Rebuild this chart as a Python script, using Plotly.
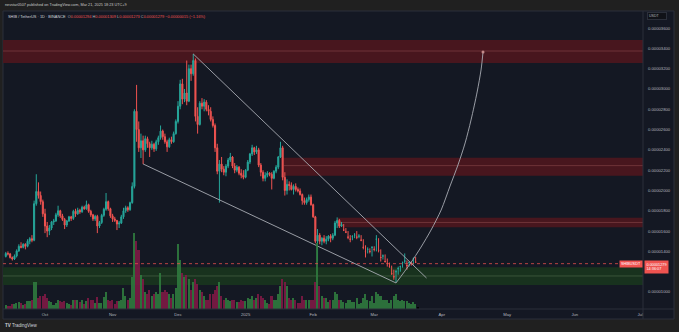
import pandas as pd
import plotly.graph_objects as go

# ---- SHIB / USDT daily candles (prices in units of 1e-8 USDT) ----
dates = pd.date_range("2024-09-13", "2025-03-21", freq="D")

opens = [1350, 1380, 1375, 1340, 1325, 1355, 1405, 1450, 1440, 1470, 1450, 1500, 1525, 1510, 1870, 1990, 1950, 1890,
         1770, 1650, 1600, 1630, 1690, 1700, 1760, 1800, 1750, 1715, 1660, 1700, 1740, 1725, 1795, 1770, 1805, 1790,
         1835, 1820, 1860, 1795, 1760, 1720, 1745, 1650, 1685, 1755, 1815, 1890, 1820,
         1750, 1720, 1705, 1670, 1680, 1740, 1800, 1830, 1810, 1880, 2040, 2780, 2600, 2420, 2490, 2400, 2510, 2460,
         2420, 2455, 2410, 2480, 2520, 2585, 2530, 2480, 2430, 2500, 2480, 2560,
         2680, 2830, 3050, 2900, 2960, 2880, 3200, 3150, 3280, 2730, 2650, 2860, 2830, 2870, 2800, 2780, 2700, 2640,
         2420, 2190, 2260, 2210, 2180, 2240, 2300, 2330, 2240, 2200, 2230, 2170, 2150,
         2130, 2200, 2280, 2360, 2420, 2380, 2400, 2250, 2180, 2120, 2150, 2170, 2160, 2120, 2190, 2230, 2330, 2420,
         2130, 2000, 2060, 2050, 2010, 2040, 2010, 1995, 1960, 1900, 1880, 1910, 1935,
         1860, 1740, 1500, 1560, 1500, 1530, 1500, 1520, 1550, 1530, 1560, 1680, 1705, 1650, 1610, 1590, 1540, 1520,
         1545, 1560, 1540, 1550, 1510, 1440, 1400, 1420, 1400,
         1440, 1420, 1520, 1410, 1340, 1355, 1300, 1280, 1250, 1180, 1150, 1200, 1230, 1250, 1290, 1305, 1260, 1290,
         1280, 1330, 1294]
highs = [1395, 1400, 1385, 1350, 1370, 1420, 1470, 1490, 1480, 1480, 1520, 1540, 1560, 1900, 2160, 2080, 1990, 1910,
         1820, 1690, 1660, 1700, 1720, 1780, 1850, 1810, 1770, 1730, 1710, 1750, 1750, 1810, 1820, 1830, 1820, 1850,
         1850, 1900, 1870, 1810, 1770, 1760, 1760, 1700, 1770, 1830, 1975, 1900, 1830,
         1770, 1740, 1710, 1700, 1760, 1830, 1850, 1845, 1890, 2080, 2800, 3040, 2680, 2560, 2540, 2540, 2530, 2480,
         2490, 2470, 2500, 2540, 2640, 2600, 2560, 2500, 2520, 2530, 2580, 2700,
         2880, 3090, 3100, 3000, 3280, 3240, 3240, 3345, 3300, 2820, 2880, 2910, 2900, 2890, 2840, 2820, 2730, 2660,
         2460, 2300, 2330, 2240, 2260, 2320, 2370, 2340, 2270, 2250, 2240, 2210, 2200,
         2210, 2300, 2370, 2450, 2430, 2440, 2420, 2270, 2200, 2180, 2190, 2180, 2180, 2200, 2250, 2340, 2480, 2440,
         2180, 2110, 2090, 2080, 2060, 2070, 2030, 2020, 1970, 1930, 1930, 1960, 1960,
         1870, 1750, 1620, 1580, 1540, 1560, 1550, 1560, 1570, 1580, 1700, 1735, 1720, 1690, 1670, 1630, 1600, 1560,
         1560, 1580, 1600, 1570, 1560, 1520, 1460, 1440, 1430, 1450,
         1450, 1560, 1530, 1420, 1370, 1370, 1330, 1290, 1260, 1220, 1220, 1250, 1260, 1300, 1380, 1310, 1300, 1300,
         1340, 1345, 1309]
lows = [1340, 1360, 1330, 1310, 1315, 1340, 1395, 1430, 1430, 1420, 1440, 1470, 1490, 1500, 1850, 1920, 1860, 1740,
        1580, 1540, 1560, 1610, 1660, 1690, 1740, 1730, 1700, 1620, 1640, 1690, 1700, 1710, 1740, 1760, 1770, 1780,
        1810, 1810, 1780, 1740, 1700, 1700, 1580, 1630, 1670, 1740, 1800, 1800, 1730,
        1690, 1690, 1610, 1630, 1670, 1720, 1780, 1790, 1800, 1870, 2020, 2480, 2380, 2320, 2260, 2380, 2420, 2330,
        2400, 2380, 2390, 2450, 2500, 2500, 2460, 2380, 2420, 2460, 2470, 2550,
        2660, 2800, 2850, 2870, 2840, 2870, 3080, 3130, 2680, 2560, 2640, 2800, 2780, 2780, 2740, 2680, 2620, 2380,
        2160, 1880, 2180, 2150, 2140, 2220, 2280, 2220, 2170, 2180, 2150, 2120, 2110,
        2120, 2190, 2260, 2340, 2350, 2360, 2230, 2140, 2090, 2090, 2130, 2140, 2010, 2110, 2170, 2210, 2320, 2100,
        1950, 1960, 2000, 2000, 1960, 1990, 1980, 1950, 1860, 1860, 1860, 1890, 1850,
        1730, 1480, 1300, 1470, 1460, 1480, 1470, 1500, 1490, 1510, 1550, 1630, 1630, 1640, 1600, 1580, 1520, 1490,
        1510, 1530, 1520, 1530, 1500, 1420, 1340, 1380, 1380, 1350,
        1400, 1400, 1390, 1300, 1320, 1290, 1250, 1240, 1170, 1120, 1095, 1170, 1200, 1240, 1280, 1220, 1250, 1260,
        1270, 1285, 1273]
closes = [1380, 1375, 1340, 1325, 1355, 1405, 1450, 1440, 1470, 1450, 1500, 1525, 1510, 1870, 1990, 1950, 1890, 1770,
          1650, 1600, 1630, 1690, 1700, 1760, 1800, 1750, 1715, 1660, 1700, 1740, 1725, 1795, 1770, 1805, 1790, 1835,
          1820, 1860, 1795, 1760, 1720, 1745, 1650, 1685, 1755, 1815, 1890, 1820, 1750,
          1720, 1705, 1670, 1680, 1740, 1800, 1830, 1810, 1880, 2040, 2780, 2600, 2420, 2490, 2400, 2510, 2460, 2420,
          2455, 2410, 2480, 2520, 2585, 2530, 2480, 2430, 2500, 2480, 2560, 2680,
          2830, 3050, 2900, 2960, 2880, 3200, 3150, 3280, 2730, 2650, 2860, 2830, 2870, 2800, 2780, 2700, 2640, 2420,
          2190, 2260, 2210, 2180, 2240, 2300, 2330, 2240, 2200, 2230, 2170, 2150, 2130,
          2200, 2280, 2360, 2420, 2380, 2400, 2250, 2180, 2120, 2150, 2170, 2160, 2120, 2190, 2230, 2330, 2420, 2130,
          2000, 2060, 2050, 2010, 2040, 2010, 1995, 1960, 1900, 1880, 1910, 1935, 1860,
          1740, 1500, 1560, 1500, 1530, 1500, 1520, 1550, 1530, 1560, 1680, 1705, 1650, 1665, 1610, 1590, 1540, 1520,
          1545, 1560, 1540, 1550, 1510, 1440, 1400, 1420, 1400, 1440,
          1420, 1520, 1410, 1340, 1355, 1300, 1280, 1250, 1180, 1150, 1200, 1230, 1250, 1290, 1305, 1260, 1290, 1280,
          1330, 1294, 1279]
# daily volume, trillion SHIB
volumes = [2, 1.5, 1.5, 2.5, 2.5, 3, 3.5, 3, 2, 2.5, 4, 4, 4.5, 14, 14, 6, 7, 7,
           8, 6, 4, 3.5, 2, 3, 5, 4, 3.5, 4, 3, 2.5, 2, 4.5, 5, 4.5, 3.5, 4.5,
           2.5, 4, 6, 4.5, 5, 3, 6.5, 3, 3, 6.5, 9, 5, 4,
           4.5, 2.5, 4, 4, 4.5, 11, 7, 4.5, 6, 17, 40, 36, 31, 18, 16, 9, 8, 10,
           7, 8, 9, 8, 19, 9, 10, 9, 8, 6, 8, 11,
           34, 26, 19, 17, 18, 16, 10, 14, 16, 13, 10, 9, 7, 5, 5, 8, 8, 10,
           12, 14, 7, 5, 6, 5, 4, 5, 5, 3.5, 3.5, 5, 4,
           4, 6, 5.5, 7, 4.5, 6, 8, 7, 6, 5, 3, 2.5, 7, 5, 5, 8, 12, 16,
           14, 12, 6, 5, 6, 4.5, 3, 3, 7, 5, 4.5, 4.5, 5,
           5, 14, 35, 12, 7, 6, 6, 3.5, 5, 5, 9, 8, 5, 4.5, 3.5, 3, 5, 5,
           3.5, 3.5, 6, 2.5, 3, 6, 8, 5, 4, 7,
           3, 9, 8, 7, 4.5, 4.5, 5, 3, 4.5, 7, 8, 5, 4, 4.5, 4, 4, 3, 2.5,
           3.5, 2.5, 1]

UNIT = 1e-8
# the 0.00001200 level sits under the last-price label, so it is not listed
price_ticks = [1000, 1400, 1600, 1800, 2000, 2200, 2400, 2600, 2800, 3000, 3200, 3400, 3600]
month_ticks = ["2024-10-01", "2024-11-01", "2024-12-01", "2025-01-01", "2025-02-01", "2025-03-01",
               "2025-04-01", "2025-05-01", "2025-06-01", "2025-07-01"]
month_labels = ["Oct", "Nov", "Dec", "2025", "Feb", "Mar", "Apr", "May", "Jun", "Jul"]

# ---- drawings: supply / demand zones ----
zone_start = ["2024-09-11 17:30", "2025-01-18 12:00", "2025-02-12 00:00", "2024-09-11 17:30"]
zone_low = [3256, 2146, 1637, 1069]
zone_high = [3483, 2323, 1732, 1243]
zone_mid = [3374, 2245, 1685, 1158]
zone_kind = ["supply", "supply", "supply", "demand"]

# falling wedge
upper_dates = ["2024-12-08", "2025-03-25"]
upper_prices = [3345, 1138]
lower_dates = ["2024-11-15", "2025-03-11"]
lower_prices = [2261, 1089]

# projected breakout path
path_dates = ["2025-03-11 00:00", "2025-03-17 10:00", "2025-03-22 12:00", "2025-03-27 02:00",
              "2025-03-31 17:00", "2025-04-04 19:00", "2025-04-08 10:00", "2025-04-11 17:00",
              "2025-04-14 10:00", "2025-04-17 05:00", "2025-04-19 00:00", "2025-04-19 22:00"]
path_prices = [1089, 1276, 1443, 1611, 1808, 2044, 2251, 2468, 2695, 2970, 3187, 3364]

last_price = closes[-1]
X_START, X_END = "2024-09-11 17:30", "2025-07-02 07:00"
Y_MIN, Y_MAX = 832.5, 3768

UP, DOWN = "#26a69a", "#ef5350"
VOL_UP, VOL_DOWN = "#2f7a3e", "#7e1a45"
PANEL = "#141823"
BORDER = "#2b2f3a"
LINE = "#a8abb3"
TXT = "#b2b5be"
FONT = "Liberation Sans"

fig = go.Figure()

vol_colors = [VOL_UP if c >= o else VOL_DOWN for o, c in zip(opens, closes)]
fig.add_trace(go.Bar(
    x=dates, y=volumes, yaxis="y2", marker=dict(color=vol_colors, line=dict(width=0)),
    width=0.7 * 86400000, opacity=0.9, hoverinfo="skip", showlegend=False))

fig.add_trace(go.Candlestick(
    x=dates,
    open=[v * UNIT for v in opens], high=[v * UNIT for v in highs],
    low=[v * UNIT for v in lows], close=[v * UNIT for v in closes],
    increasing=dict(line=dict(color=UP, width=1), fillcolor=UP),
    decreasing=dict(line=dict(color=DOWN, width=1), fillcolor=DOWN),
    whiskerwidth=0, showlegend=False))

for dts, prs in ((upper_dates, upper_prices), (lower_dates, lower_prices)):
    fig.add_trace(go.Scatter(x=dts, y=[p * UNIT for p in prs], mode="lines",
                             line=dict(color=LINE, width=0.9), hoverinfo="skip", showlegend=False))

fig.add_trace(go.Scatter(x=path_dates, y=[p * UNIT for p in path_prices], mode="lines",
                         line=dict(color=LINE, width=0.9, shape="spline", smoothing=0.8),
                         hoverinfo="skip", showlegend=False))
fig.add_trace(go.Scatter(x=path_dates[-1:], y=[path_prices[-1] * UNIT], mode="markers",
                         marker=dict(color="#c48a8a", size=3), hoverinfo="skip", showlegend=False))

# plot geometry in pixels
W, H = 679, 332
L, R, T, B = 3, 643, 11, 309


def px(xp):
    return (xp - L) / (R - L)


def py(yp):
    return (B - yp) / (B - T)


shapes = [
    # chart panel including both scales
    dict(type="rect", xref="paper", yref="paper", x0=px(3), x1=px(674), y0=py(319), y1=py(11),
         fillcolor=PANEL, line=dict(color=BORDER, width=1), layer="below"),
]
for s, lo, hi, mid, kind in zip(zone_start, zone_low, zone_high, zone_mid, zone_kind):
    fill = "#48161e" if kind == "supply" else "#18321e"
    mline = "#6e3338" if kind == "supply" else "#3a553a"
    shapes.append(dict(type="rect", xref="x", yref="y", x0=s, x1=X_END, y0=lo * UNIT, y1=hi * UNIT,
                       fillcolor=fill, line=dict(width=0), layer="below"))
    shapes.append(dict(type="line", xref="x", yref="y", x0=s, x1=X_END, y0=mid * UNIT, y1=mid * UNIT,
                       line=dict(color=mline, width=1), layer="below"))
# current price line
shapes.append(dict(type="line", xref="paper", yref="y", x0=0, x1=1, y0=last_price * UNIT, y1=last_price * UNIT,
                   line=dict(color=DOWN, width=1, dash="dot"), opacity=0.75))
# scale separators
shapes.append(dict(type="line", xref="paper", yref="paper", x0=px(3), x1=px(674), y0=0, y1=0,
                   line=dict(color=BORDER, width=1)))
shapes.append(dict(type="line", xref="paper", yref="paper", x0=1, x1=1, y0=py(319), y1=py(11),
                   line=dict(color=BORDER, width=1)))

red = "#ef5350"
legend_html = (
    f"<span style='color:#d1d4dc'>SHIB / TetherUS · 1D · BINANCE</span>  "
    f"<span style='color:{TXT}'>O</span><span style='color:{red}'>{opens[-1] * UNIT:.8f}</span> "
    f"<span style='color:{TXT}'>H</span><span style='color:{red}'>{highs[-1] * UNIT:.8f}</span> "
    f"<span style='color:{TXT}'>L</span><span style='color:{red}'>{lows[-1] * UNIT:.8f}</span> "
    f"<span style='color:{TXT}'>C</span><span style='color:{red}'>{closes[-1] * UNIT:.8f}</span> "
    f"<span style='color:{red}'>−{(opens[-1] - closes[-1]) * UNIT:.8f} "
    f"(−{(opens[-1] - closes[-1]) / opens[-1] * 100:.2f}%)</span>"
)

annotations = [
    dict(xref="paper", yref="paper", x=px(3), y=py(5), xanchor="left", yanchor="middle", showarrow=False,
         text="nevstar0507 published on TradingView.com, Mar 21, 2025 18:23 UTC+9",
         font=dict(family=FONT, size=3.8, color="#c8c8c8")),
    dict(xref="paper", yref="paper", x=px(6), y=py(16), xanchor="left", yanchor="middle", showarrow=False,
         text=legend_html, font=dict(family=FONT, size=3.9, color=TXT)),
    dict(xref="paper", yref="paper", x=px(647), y=py(15.5), xanchor="left", yanchor="middle", showarrow=False,
         text="USDT      ", font=dict(family=FONT, size=3.6, color=TXT), bgcolor="#101218",
         bordercolor="#2b2f3a", borderwidth=1, borderpad=1),
    dict(xref="paper", yref="y", x=px(643), y=last_price * UNIT, xanchor="right", yanchor="middle",
         showarrow=False, text="SHIBUSDT", font=dict(family=FONT, size=3.8, color="#ffffff"),
         bgcolor=red, borderpad=1),
    dict(xref="paper", yref="y", x=px(644), y=last_price * UNIT, xanchor="left", yanchor="top",
         yshift=4, showarrow=False, align="left",
         text=f"{last_price * UNIT:.8f}<br>14:36:07", font=dict(family=FONT, size=3.8, color="#ffffff"),
         bgcolor=red, borderpad=1.5),
    dict(xref="paper", yref="paper", x=px(3), y=py(325.5), xanchor="left", yanchor="middle", showarrow=False,
         text="<b>TV</b> TradingView", font=dict(family=FONT, size=4.5, color="#d1d4dc")),
]

fig.update_layout(
    width=W, height=H,
    margin=dict(l=L, r=W - R, t=T, b=H - B, pad=0),
    paper_bgcolor="#202020", plot_bgcolor=PANEL,
    showlegend=False, bargap=0,
    shapes=shapes, annotations=annotations,
    xaxis=dict(type="date", range=[X_START, X_END], rangeslider=dict(visible=False),
               showgrid=False, zeroline=False, showline=False, ticks="",
               tickvals=month_ticks, ticktext=month_labels, ticklabelstandoff=2,
               tickfont=dict(family=FONT, size=4.2, color=TXT)),
    yaxis=dict(range=[Y_MIN * UNIT, Y_MAX * UNIT], side="right", showgrid=False, zeroline=False,
               showline=False, ticks="", tickvals=[v * UNIT for v in price_ticks],
               ticktext=[f"{v * UNIT:.8f}" for v in price_ticks], ticklabelstandoff=4,
               tickfont=dict(family=FONT, size=4.2, color=TXT)),
    yaxis2=dict(overlaying="y", range=[0, 40 * 298 / 76], visible=False, showgrid=False),
)

fig.write_html("out.html")
